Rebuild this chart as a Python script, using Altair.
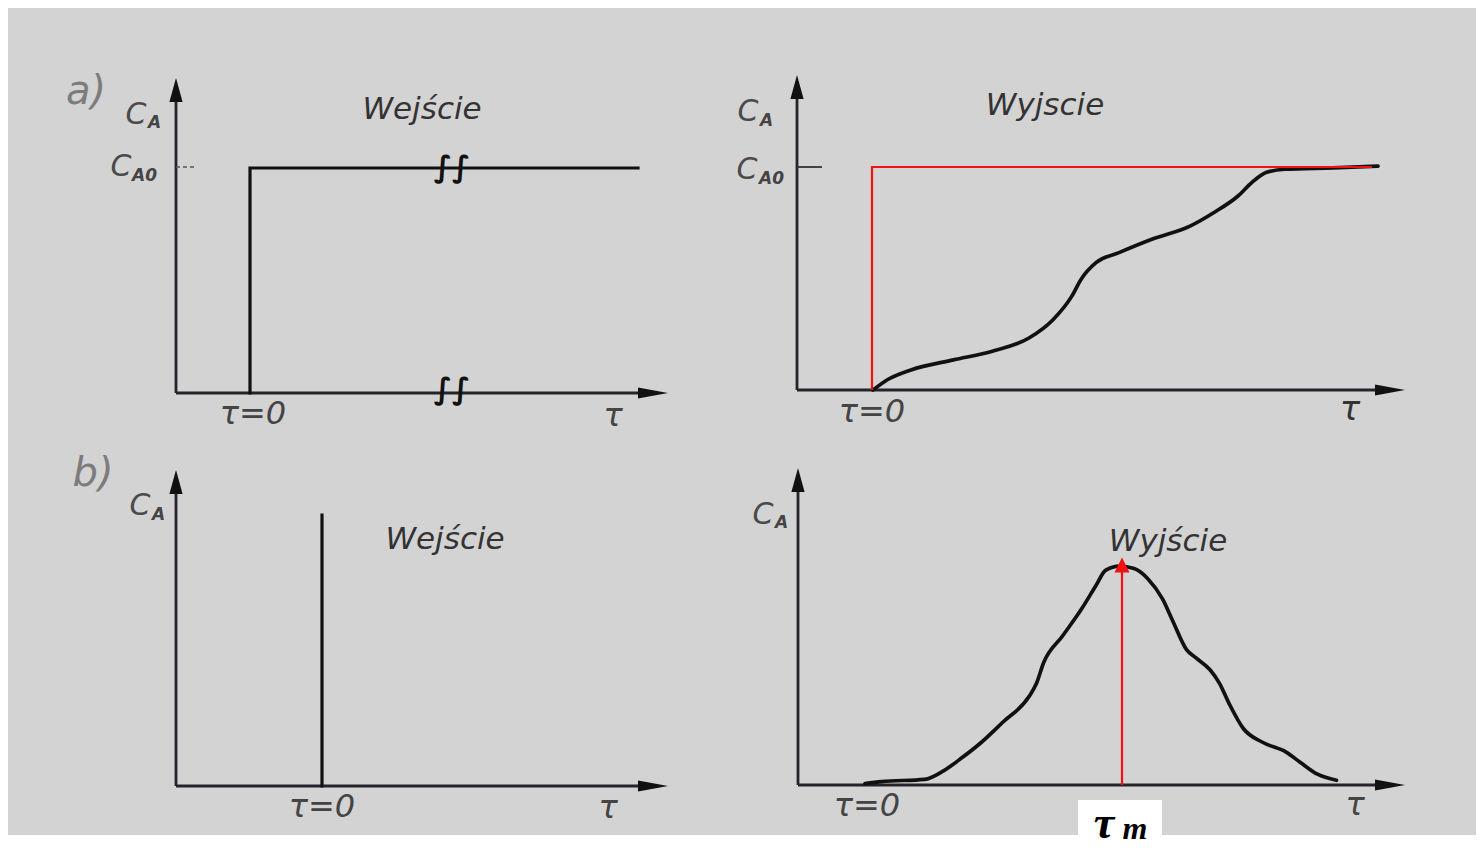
import altair as alt
import pandas as pd

# ---------------- data ----------------
# tau: time in axis units (tau = 0 at the start of the input); c: C_A / C_A0
tl_step_tau = [0.0, 0.0, 7.76]
tl_step_c = [0.0, 1.0, 1.0]

tr_ideal_tau = [0.0, 0.0, 10.0]
tr_ideal_c = [0.0, 1.0, 1.0]

tr_curve_tau = [0.02, 0.30, 0.78, 1.63, 2.39, 3.14, 3.62, 4.00, 4.18, 4.48, 4.94,
                5.61, 6.36, 6.84, 7.32, 7.60, 7.88, 8.26, 9.22, 10.12]
tr_curve_c = [0.0, 0.045, 0.09, 0.135, 0.173, 0.233, 0.315, 0.422, 0.496, 0.571, 0.616,
              0.677, 0.735, 0.796, 0.870, 0.931, 0.975, 0.990, 0.996, 1.004]

bl_pulse_tau = [0.0, 0.0]
bl_pulse_c = [0.0, 1.204]

br_curve_tau = [0.0, 0.33, 1.19, 1.57, 1.95, 2.33, 2.76, 3.28, 3.43, 3.57, 3.95, 4.33,
                4.62, 4.81, 5.09, 5.38, 5.66, 5.95, 6.14, 6.43, 6.62, 6.90, 7.09, 7.28,
                7.57, 7.95, 8.43, 8.71, 9.05, 9.43]
br_curve_c = [0.006, 0.015, 0.025, 0.063, 0.123, 0.190, 0.280, 0.393, 0.452, 0.542, 0.662,
              0.782, 0.887, 0.954, 0.973, 0.962, 0.916, 0.827, 0.737, 0.602, 0.565, 0.512,
              0.452, 0.363, 0.250, 0.190, 0.145, 0.100, 0.048, 0.021]

br_tm_tau = [5.14, 5.14]
br_tm_c = [0.0, 0.965]

# ---------------- layout (page pixels) ----------------
W, H = 1468, 841
PANEL = {
    "TL": dict(x0=250, y0=393, ux=50, uy=225, ax=176, top=78, xend=668),
    "TR": dict(x0=872, y0=390, ux=50, uy=223, ax=797, top=75, xend=1405),
    "BL": dict(x0=322, y0=786, ux=50, uy=225, ax=176, top=470, xend=668),
    "BR": dict(x0=865, y0=785, ux=50, uy=225, ax=798, top=468, xend=1405),
}


def series(panel, name, taus, cs):
    p = PANEL[panel]
    return pd.DataFrame({
        "x": [p["x0"] + t * p["ux"] for t in taus],
        "y": [p["y0"] - c * p["uy"] for c in cs],
        "s": name,
        "o": list(range(len(taus))),
    })


X = alt.Scale(domain=[8, 8 + W], nice=False, zero=False)
Y = alt.Scale(domain=[8, 8 + H], nice=False, zero=False, reverse=True)


def xy(**kw):
    return dict(x=alt.X("x:Q", scale=X, axis=None), y=alt.Y("y:Q", scale=Y, axis=None), **kw)


def seg():
    return dict(x=alt.X("x:Q", scale=X, axis=None), x2="x2:Q",
                y=alt.Y("y:Q", scale=Y, axis=None), y2="y2:Q")


black_df = pd.concat([
    series("TL", "tl", tl_step_tau, tl_step_c),
    series("BL", "bl", bl_pulse_tau, bl_pulse_c),
])
curve_df = pd.concat([
    series("TR", "tr", tr_curve_tau, tr_curve_c),
    series("BR", "br", br_curve_tau, br_curve_c),
])
red_df = pd.concat([
    series("TR", "tri", tr_ideal_tau, tr_ideal_c),
    series("BR", "tm", br_tm_tau, br_tm_c),
])

# axes
axes_rows = []
up_rows, right_rows = [], []
for k, p in PANEL.items():
    axes_rows.append(dict(x=p["ax"], y=p["y0"], x2=p["ax"], y2=p["top"] + 12))
    axes_rows.append(dict(x=p["ax"], y=p["y0"], x2=p["xend"] - 15, y2=p["y0"]))
    up_rows.append(dict(x=p["ax"], y=p["top"] + 12))
    right_rows.append(dict(x=p["xend"] - 15, y=p["y0"]))
axes_df = pd.DataFrame(axes_rows)

ticks_df = pd.DataFrame([dict(x=176, x2=197, y=167, y2=167)])
ticks2_df = pd.DataFrame([dict(x=797, x2=822, y=167, y2=167)])

layers = []

# white strip at the bottom and box for tau_m
layers.append(alt.Chart(alt.Data(values=[{}])).mark_rect(color="white").encode(
    x=alt.value(0), x2=alt.value(W), y=alt.value(827), y2=alt.value(H)))
box_df = pd.DataFrame([dict(x=1078, x2=1162, y=800, y2=8 + H)])
layers.append(alt.Chart(box_df).mark_rect(color="white").encode(**seg()))

# axes
layers.append(alt.Chart(axes_df).mark_rule(color="#24242c", strokeWidth=2.8).encode(**seg()))
layers.append(alt.Chart(ticks_df).mark_rule(color="#555", strokeWidth=1.5, strokeDash=[4, 3]).encode(**seg()))
layers.append(alt.Chart(ticks2_df).mark_rule(color="#333", strokeWidth=1.8).encode(**seg()))
layers.append(alt.Chart(pd.DataFrame(up_rows)).mark_point(
    shape="M0,-1L0.55,1L-0.55,1Z", size=576, filled=True, opacity=1, color="#111", strokeWidth=0
).encode(**xy()))
layers.append(alt.Chart(pd.DataFrame(right_rows)).mark_point(
    shape="M1,0L-1,0.36L-1,-0.36Z", size=900, filled=True, opacity=1, color="#111", strokeWidth=0
).encode(**xy()))

# input signals (step / pulse)
layers.append(alt.Chart(black_df).mark_line(color="#111", strokeWidth=3.2, strokeCap="square").encode(
    **xy(detail="s:N", order="o:Q")))
# responses
layers.append(alt.Chart(curve_df).mark_line(color="#111", strokeWidth=3.7, interpolate="monotone",
                                            strokeCap="round").encode(
    **xy(detail="s:N", order="o:Q")))
# red annotations
layers.append(alt.Chart(red_df).mark_line(color="#f21010", strokeWidth=2.2).encode(
    **xy(detail="s:N", order="o:Q")))
layers.append(alt.Chart(pd.DataFrame([dict(x=1122, y=565)])).mark_point(
    shape="M0,-1L1,1L-1,1Z", size=225, filled=True, opacity=1, color="#f21010", strokeWidth=0
).encode(**xy()))

# labels
lab = pd.DataFrame([
    dict(t="a)", x=86, y=92, fs=40, c="#7c7c7c"),
    dict(t="b)", x=93, y=474, fs=40, c="#7c7c7c"),
    dict(t="Wejście", x=422, y=110, fs=31, c="#333333"),
    dict(t="Wyjscie", x=1045, y=106, fs=31, c="#333333"),
    dict(t="Wejście", x=445, y=540, fs=31, c="#333333"),
    dict(t="Wyjście", x=1168, y=542, fs=31, c="#333333"),
    dict(t="τ=0", x=253, y=414, fs=32, c="#444444"),
    dict(t="τ=0", x=872, y=412, fs=32, c="#444444"),
    dict(t="τ=0", x=322, y=807, fs=32, c="#444444"),
    dict(t="τ=0", x=867, y=806, fs=32, c="#444444"),
    dict(t="τ", x=613, y=416, fs=32, c="#444444"),
    dict(t="τ", x=1350, y=410, fs=34, c="#333333"),
    dict(t="τ", x=608, y=808, fs=32, c="#444444"),
    dict(t="τ", x=1355, y=805, fs=32, c="#444444"),
    dict(t="C", x=136, y=115, fs=30, c="#4a4a4a"),
    dict(t="C", x=121, y=167, fs=30, c="#4a4a4a"),
    dict(t="C", x=748, y=112, fs=30, c="#4a4a4a"),
    dict(t="C", x=747, y=170, fs=30, c="#4a4a4a"),
    dict(t="C", x=140, y=506, fs=30, c="#4a4a4a"),
    dict(t="C", x=763, y=515, fs=30, c="#4a4a4a"),
])
sub = pd.DataFrame([
    dict(t="A", x=148, y=123, fs=17, c="#444"),
    dict(t="A0", x=132, y=176, fs=17, c="#444"),
    dict(t="A", x=760, y=121, fs=17, c="#444"),
    dict(t="A0", x=759, y=179, fs=17, c="#444"),
    dict(t="A", x=152, y=515, fs=17, c="#444"),
    dict(t="A", x=775, y=523, fs=17, c="#444"),
])
brk = pd.DataFrame([
    dict(t="∫∫", x=452, y=168),
    dict(t="∫∫", x=452, y=390),
])
tm = pd.DataFrame([
    dict(t="τ", x=1104, y=824, fs=46),
    dict(t="m", x=1135, y=829, fs=32),
])

layers.append(alt.Chart(lab).mark_text(font="DejaVu Sans", fontStyle="italic", align="center",
                                       baseline="middle").encode(
    **xy(text="t:N", size=alt.Size("fs:Q", scale=None), color=alt.Color("c:N", scale=None))))
layers.append(alt.Chart(sub).mark_text(font="DejaVu Sans", fontStyle="italic", fontWeight="bold",
                                       align="left", baseline="middle").encode(
    **xy(text="t:N", size=alt.Size("fs:Q", scale=None), color=alt.Color("c:N", scale=None))))
layers.append(alt.Chart(brk).mark_text(font="DejaVu Sans", fontWeight="bold",
                                       fontSize=30, color="#111", align="center",
                                       baseline="middle").encode(**xy(text="t:N")))
layers.append(alt.Chart(tm).mark_text(font="Liberation Serif", fontStyle="italic", fontWeight="bold",
                                      color="#000", align="center", baseline="middle").encode(
    **xy(text="t:N", size=alt.Size("fs:Q", scale=None))))

chart = alt.layer(*layers).properties(
    width=W, height=H, padding=0, autosize=alt.AutoSizeParams(type="none"),
    background="#d3d3d3",
).configure_view(stroke=None)

chart.save("out.html", embed_options={"renderer": "svg", "actions": False})
